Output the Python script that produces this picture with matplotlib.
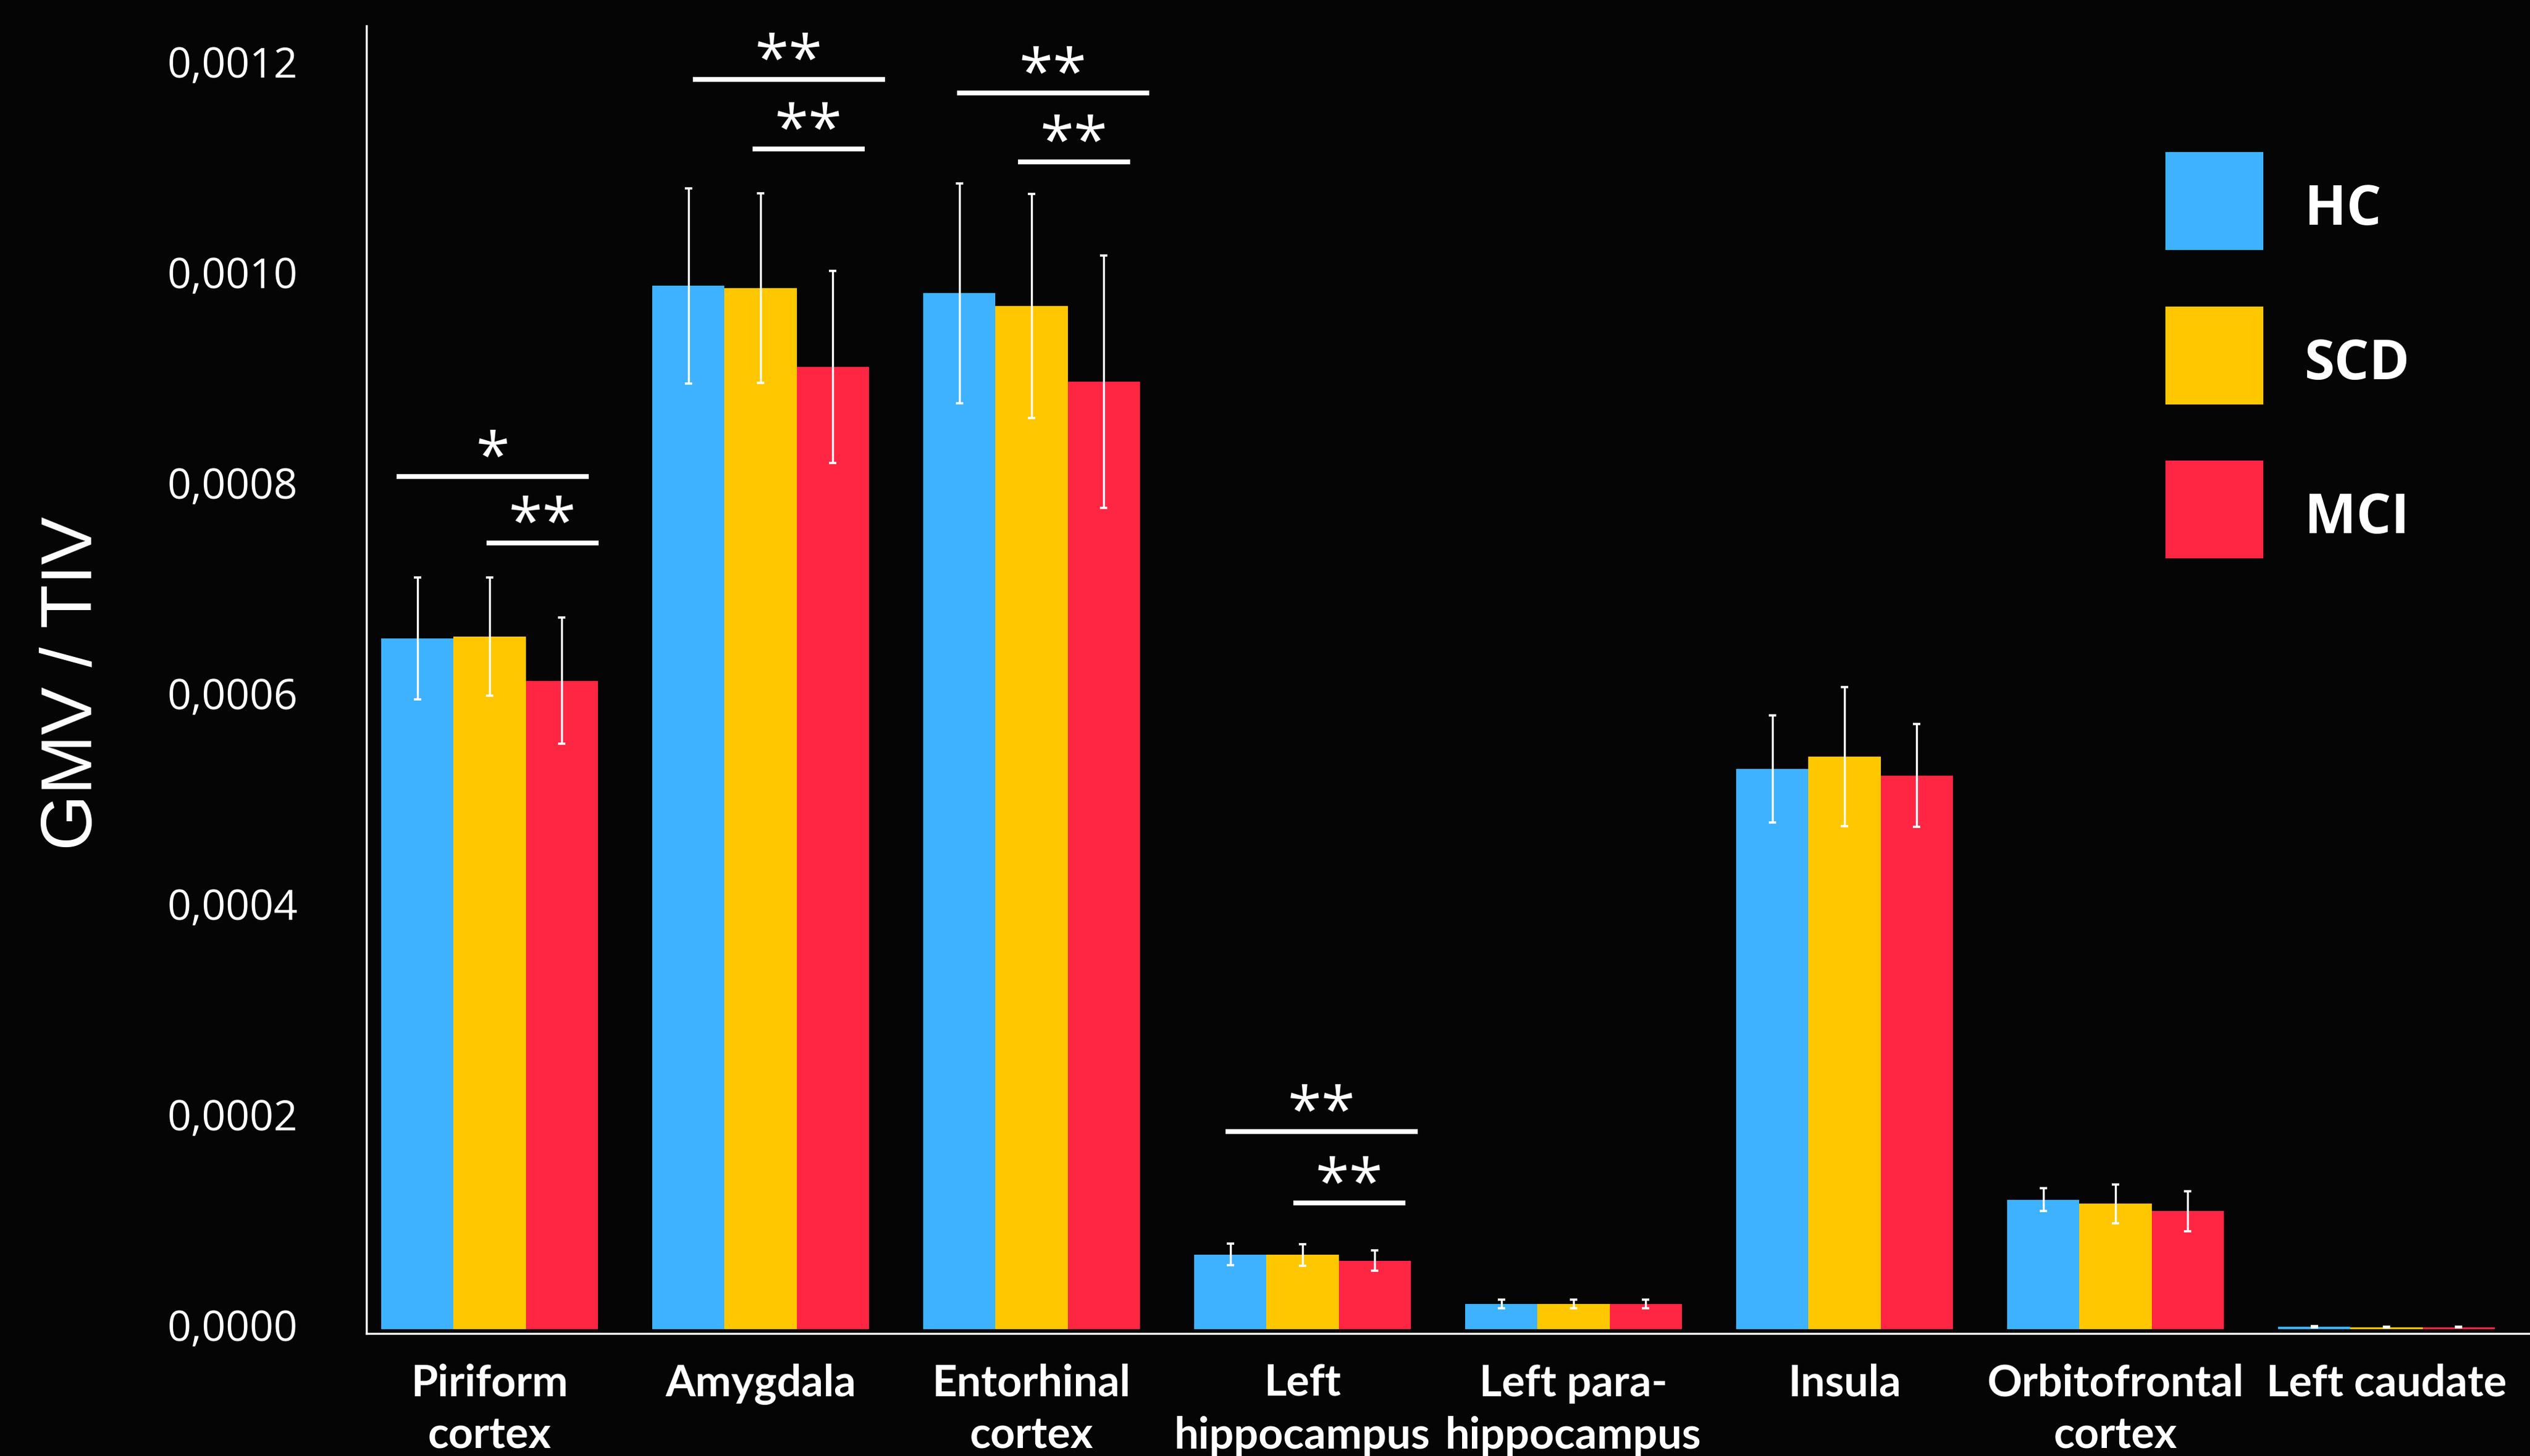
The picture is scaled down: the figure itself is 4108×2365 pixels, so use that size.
import matplotlib
matplotlib.use("Agg")
import matplotlib.pyplot as plt
from matplotlib.ticker import FuncFormatter
from matplotlib.transforms import ScaledTranslation
import numpy as np

# ---------------- data ----------------
regions = ["Piriform\ncortex", "Amygdala", "Entorhinal\ncortex", "Left\nhippocampus",
           "Left para-\nhippocampus", "Insula", "Orbitofrontal\ncortex", "Left caudate"]
groups = ["HC", "SCD", "MCI"]

hc_mean = [0.000656, 0.000991, 0.000984, 0.0000710, 0.0000240, 0.000532, 0.000123, 0.0000025]
scd_mean = [0.000658, 0.000989, 0.000972, 0.0000705, 0.0000240, 0.000544, 0.000119, 0.0000020]
mci_mean = [0.000616, 0.000914, 0.000900, 0.0000650, 0.0000240, 0.000526, 0.000112, 0.0000020]

hc_err = [0.0000580, 0.0000925, 0.0001045, 0.0000100, 0.0000040, 0.0000510, 0.0000110, 0.0000005]
scd_err = [0.0000560, 0.0000900, 0.0001065, 0.0000100, 0.0000040, 0.0000660, 0.0000185, 0.0000005]
mci_err = [0.0000600, 0.0000910, 0.0001200, 0.0000097, 0.0000040, 0.0000490, 0.0000190, 0.0000005]

# significance brackets: start x, end x (category units), height, label
sig_x0 = [-0.343, -0.011, 0.750, 0.970, 1.725, 1.950, 2.716, 2.966]
sig_x1 = [0.366, 0.402, 1.460, 1.385, 2.434, 2.364, 3.425, 3.380]
sig_y = [0.000810, 0.000747, 0.001187, 0.001121, 0.001174, 0.001109, 0.000188, 0.000120]
sig_label = ["*", "**", "**", "**", "**", "**", "**", "**"]

yticks = [0.0, 0.0002, 0.0004, 0.0006, 0.0008, 0.0010, 0.0012]

colors = ["#3EB2FF", "#FFC700", "#FF2644"]
bg = "#050505"

# ---------------- figure ----------------
W, H = 4108, 2365
fig = plt.figure(figsize=(W / 100, H / 100), dpi=100, facecolor=bg)
ax = fig.add_axes([595 / W, (H - 2166) / H, 1 - 595 / W, (2166 - 42) / H])
ax.set_facecolor(bg)

x = np.arange(len(regions))
bw = 0.266
means = [hc_mean, scd_mean, mci_mean]
errs = [hc_err, scd_err, mci_err]
containers = []
for i, (m, e, c, g) in enumerate(zip(means, errs, colors, groups)):
    bc = ax.bar(x + (i - 1) * bw, m, width=bw, color=c, label=g, yerr=e,
                error_kw=dict(ecolor="white", elinewidth=2.4, capsize=4.3, capthick=2.6))
    containers.append(bc)

# significance lines and stars
for x0, x1, y, lab in zip(sig_x0, sig_x1, sig_y, sig_label):
    ax.plot([x0, x1], [y, y], color="white", lw=5.6, solid_capstyle="butt", clip_on=False)
    ax.text((x0 + x1) / 2, y, lab, ha="center", va="baseline", color="white",
            fontsize=72, family="Open Sans")

ax.set_xlim(-0.4545, (W - 795) / 440)
ax.set_ylim(-0.0000041, 0.001238)

for s in ["top", "right"]:
    ax.spines[s].set_visible(False)
for s in ["left", "bottom"]:
    ax.spines[s].set_color("white")
    ax.spines[s].set_linewidth(2.4)

ax.set_yticks(yticks)
ax.yaxis.set_major_formatter(FuncFormatter(lambda v, p: f"{v:.4f}".replace(".", ",")))
ax.tick_params(axis="y", length=0, pad=80, labelcolor="white")
shift = ScaledTranslation(0, 5 / 72, fig.dpi_scale_trans)
for t in ax.get_yticklabels():
    t.set_fontfamily("Open Sans")
    t.set_fontsize(49)
    t.set_transform(t.get_transform() + shift)

ax.set_xticks(x)
ax.set_xticklabels(regions, fontfamily="Lato", fontweight="bold", fontsize=50.5,
                   color="white", linespacing=1.38)
ax.tick_params(axis="x", length=0, pad=35)

ax.set_ylabel("GMV / TIV", fontfamily="Liberation Sans", fontsize=84, color="white", va="center")
ax.yaxis.set_label_coords((118 - 595) / (W - 595), (2166 - 1110) / (2166 - 42))

leg = ax.legend(handles=containers, labels=groups, loc="upper left",
                bbox_to_anchor=(3516 / W, 1 - 247 / H), bbox_transform=fig.transFigure,
                frameon=False, borderpad=0, borderaxespad=0,
                handlelength=1.79, handleheight=2.377, labelspacing=1.03, handletextpad=0.75,
                prop=dict(family="Open Sans", weight="bold", size=64))
down = ScaledTranslation(0, -8 / 72, fig.dpi_scale_trans)
for t in leg.get_texts():
    t.set_color("white")
    t.set_transform(t.get_transform() + down)

fig.savefig("out.png", dpi=100, facecolor=bg)
